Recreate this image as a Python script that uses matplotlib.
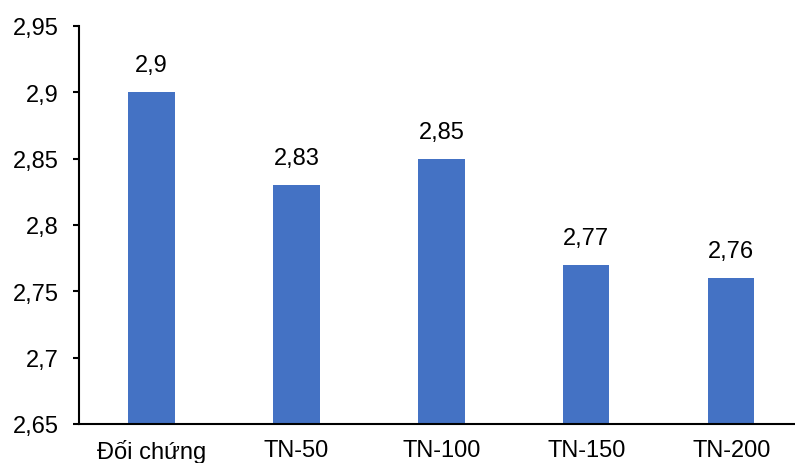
import matplotlib
matplotlib.use("Agg")
import matplotlib.pyplot as plt
from matplotlib.ticker import FuncFormatter

plt.rcParams['font.family'] = ['Liberation Sans', 'DejaVu Sans']

categories = ["Đối chứng", "TN-50", "TN-100", "TN-150", "TN-200"]
values = [2.90, 2.83, 2.85, 2.77, 2.76]
yticks = [2.65, 2.70, 2.75, 2.80, 2.85, 2.90, 2.95]

fig = plt.figure(figsize=(7.95, 4.64), dpi=100)
ax = fig.add_axes([79 / 795, 39 / 464, 1 - 79 / 795, 398 / 464])

x = list(range(len(categories)))
ax.bar(x, [v - 2.65 for v in values], bottom=2.65, width=0.32, color="#4472C4")

def fmt(v):
    s = f"{v:.2f}".rstrip("0").rstrip(".")
    return s.replace(".", ",")

for xi, v in zip(x, values):
    ax.text(xi, v + 0.012, fmt(v), ha="center", va="bottom", fontsize=17, color="black")

ax.set_ylim(2.65, 2.95)
ax.set_xlim(-0.5, 4.44)
ax.set_yticks(yticks)
ax.yaxis.set_major_formatter(FuncFormatter(lambda v, p: fmt(v)))
ax.set_xticks(x)
ax.set_xticklabels(categories)
ax.tick_params(axis="y", labelsize=17, length=4.5, width=1.5, direction="out", pad=10)
ax.tick_params(axis="x", labelsize=17, length=0, pad=11)

for side in ["top", "right"]:
    ax.spines[side].set_visible(False)
ax.spines["left"].set_linewidth(1.5)
ax.spines["bottom"].set_linewidth(1.5)

fig.savefig("out.png", dpi=100)
